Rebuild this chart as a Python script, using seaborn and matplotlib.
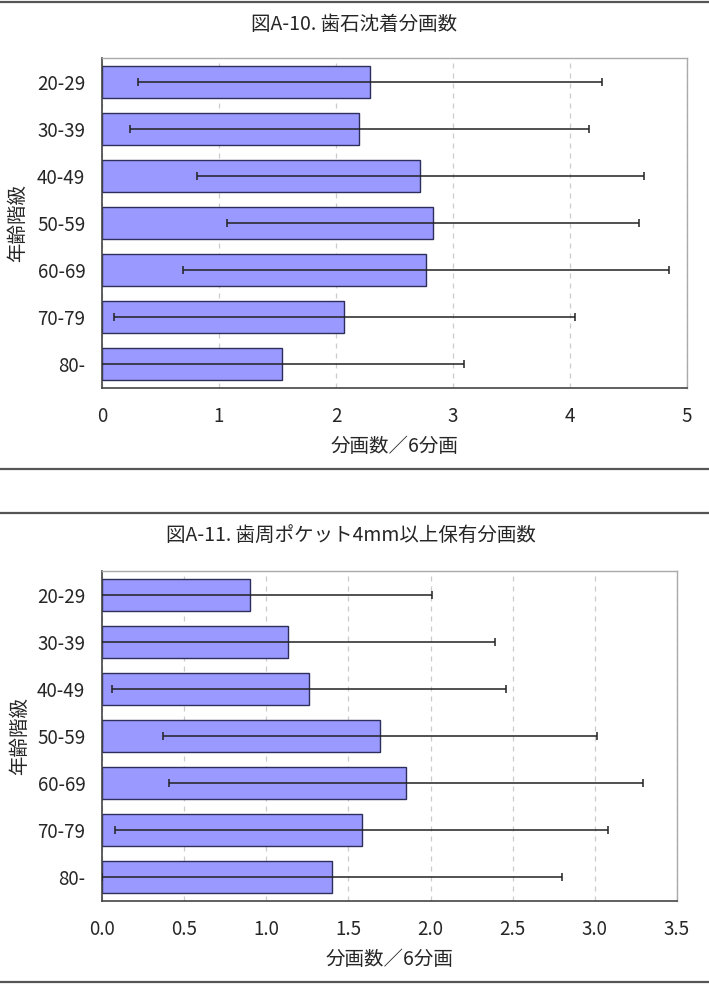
import numpy as np
import pandas as pd
import matplotlib.pyplot as plt
import seaborn as sns
from matplotlib.lines import Line2D

sns.set_style('white')
plt.rcParams['font.family'] = ['Noto Sans CJK JP', 'DejaVu Sans']

age_groups = ['20-29', '30-39', '40-49', '50-59', '60-69', '70-79', '80-']

# 図A-10 歯石沈着分画数 (mean, sd)
calc_mean = [2.29, 2.20, 2.72, 2.83, 2.77, 2.07, 1.54]
calc_sd = [1.98, 1.96, 1.91, 1.76, 2.08, 1.97, 1.55]

# 図A-11 歯周ポケット4mm以上保有分画数 (mean, sd)
pocket_mean = [0.90, 1.13, 1.26, 1.69, 1.85, 1.58, 1.40]
pocket_sd = [1.11, 1.26, 1.20, 1.32, 1.44, 1.50, 1.40]

calc_ticks = [0, 1, 2, 3, 4, 5]
calc_ticklabels = ['0', '1', '2', '3', '4', '5']
pocket_ticks = [0, 0.5, 1.0, 1.5, 2.0, 2.5, 3.0, 3.5]
pocket_ticklabels = ['0.0', '0.5', '1.0', '1.5', '2.0', '2.5', '3.0', '3.5']

xlabel = '分画数／6分画'
ylabel = '年齢階級'

W, H = 709, 990
fig = plt.figure(figsize=(W/100, H/100), dpi=100)


def draw(ax, means, sds, ticks, ticklabels):
    df = pd.DataFrame({'age': age_groups, 'val': means})
    sns.barplot(data=df, x='val', y='age', ax=ax, color='#9999FF', saturation=1,
                width=0.68, edgecolor='#2E2E5C', linewidth=1.0, zorder=2)
    ax.errorbar(means, np.arange(len(means)), xerr=sds, fmt='none', ecolor='#222222',
                elinewidth=1.1, capsize=3, capthick=1.1, zorder=3)
    ax.set_xlim(ticks[0], ticks[-1])
    ax.set_ylim(len(means) - 0.5, -0.5)
    ax.set_xticks(ticks)
    ax.set_xticklabels(ticklabels, fontsize=13.5)
    ax.set_yticks(np.arange(len(means)))
    ax.set_yticklabels(age_groups, fontsize=13.5)
    ax.set_yticks(np.arange(len(means) + 1) - 0.5, minor=True)
    ax.tick_params(axis='y', which='major', length=0, pad=12)
    ax.tick_params(axis='y', which='minor', direction='in', length=4, color='#444444', width=1)
    ax.tick_params(axis='x', which='major', direction='in', length=4, color='#444444', width=1, pad=13)
    ax.xaxis.grid(True, linestyle=(0, (4, 4)), color='#cccccc', linewidth=0.9, zorder=0)
    ax.set_axisbelow(True)
    for s in ['left', 'bottom']:
        ax.spines[s].set_color('#444444')
        ax.spines[s].set_linewidth(1.2)
    for s in ['top', 'right']:
        ax.spines[s].set_color('#aaaaaa')
        ax.spines[s].set_linewidth(1.0)
    ax.set_xlabel(xlabel, fontsize=14)
    ax.set_ylabel(ylabel, fontsize=14)
    ax.xaxis.set_label_coords(0.5, -0.177)
    ax.xaxis.label.set_va('center')
    ax.yaxis.set_label_coords(-0.144, 0.5)
    ax.yaxis.label.set_va('center')


ax1 = fig.add_axes([102/W, 1 - 387.7/H, 585/W, 329.7/H])
draw(ax1, calc_mean, calc_sd, calc_ticks, calc_ticklabels)
ax2 = fig.add_axes([102/W, 1 - 900.7/H, 575/W, 329.7/H])
draw(ax2, pocket_mean, pocket_sd, pocket_ticks, pocket_ticklabels)

fig.text(0.5, 1 - 25/H, '図A-10. 歯石沈着分画数', ha='center', va='center', fontsize=14)
fig.text(0.495, 1 - 536/H, '図A-11. 歯周ポケット4mm以上保有分画数', ha='center', va='center', fontsize=14)

for y in [1.5, 469, 513, 982]:
    fig.add_artist(Line2D([0, 1], [1 - y/H, 1 - y/H], transform=fig.transFigure,
                          color='#555555', linewidth=1.6))

fig.savefig('out.png', dpi=100)
